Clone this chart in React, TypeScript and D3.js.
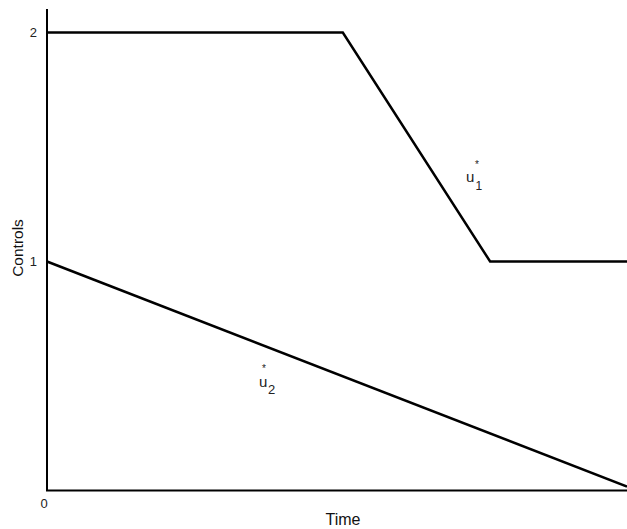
import React from "react";
import * as d3 from "d3";

const u1Time = [0, 5.1, 7.64, 10];
const u1Value = [2, 2, 1, 1];
const u2Time = [0, 10];
const u2Value = [1, 0.017];
const yTicks = [1, 2];

const W = 627, H = 529;

export default function App() {
  const x = d3.scaleLinear().domain([0, 10]).range([47, 627]);
  const y = d3.scaleLinear().domain([0, 2]).range([490.5, 32.5]);
  const line = d3.line<[number, number]>().x(d => x(d[0])).y(d => y(d[1]));
  const u1 = u1Time.map((t, i) => [t, u1Value[i]] as [number, number]);
  const u2 = u2Time.map((t, i) => [t, u2Value[i]] as [number, number]);
  const font = "Liberation Sans, Arial, sans-serif";
  return (
    <svg width={W} height={H} style={{ position: "absolute", left: 0, top: 0, background: "#fff" }} fontFamily={font}>
      <line x1={x(0)} x2={x(0)} y1={9} y2={y(0)} stroke="#000" strokeWidth={2} />
      <line x1={x(0) - 1} x2={W} y1={y(0)} y2={y(0)} stroke="#000" strokeWidth={2} />
      {yTicks.map(t => (
        <text key={t} x={37} y={y(t)} dy="0.35em" textAnchor="end" fontSize={13} fill="#222">{t}</text>
      ))}
      <text x={44} y={508} textAnchor="middle" fontSize={13} fill="#222">0</text>
      <path d={line(u1) || ""} fill="none" stroke="#000" strokeWidth={2.5} strokeLinejoin="miter" />
      <path d={line(u2) || ""} fill="none" stroke="#000" strokeWidth={2.5} />
      <text x={-248} y={23} transform="rotate(-90)" textAnchor="middle" fontSize={15.5} fill="#111">Controls</text>
      <text x={343} y={525} textAnchor="middle" fontSize={16} fill="#111">Time</text>
      <g fill="#222">
        <text x={466} y={182} fontSize={15}>u</text>
        <text x={475.5} y={190} fontSize={12}>1</text>
        <text x={475} y={168} fontSize={10}>*</text>
        <text x={259} y={387} fontSize={15}>u</text>
        <text x={268} y={394} fontSize={13}>2</text>
        <text x={262} y={372} fontSize={10}>*</text>
      </g>
    </svg>
  );
}
